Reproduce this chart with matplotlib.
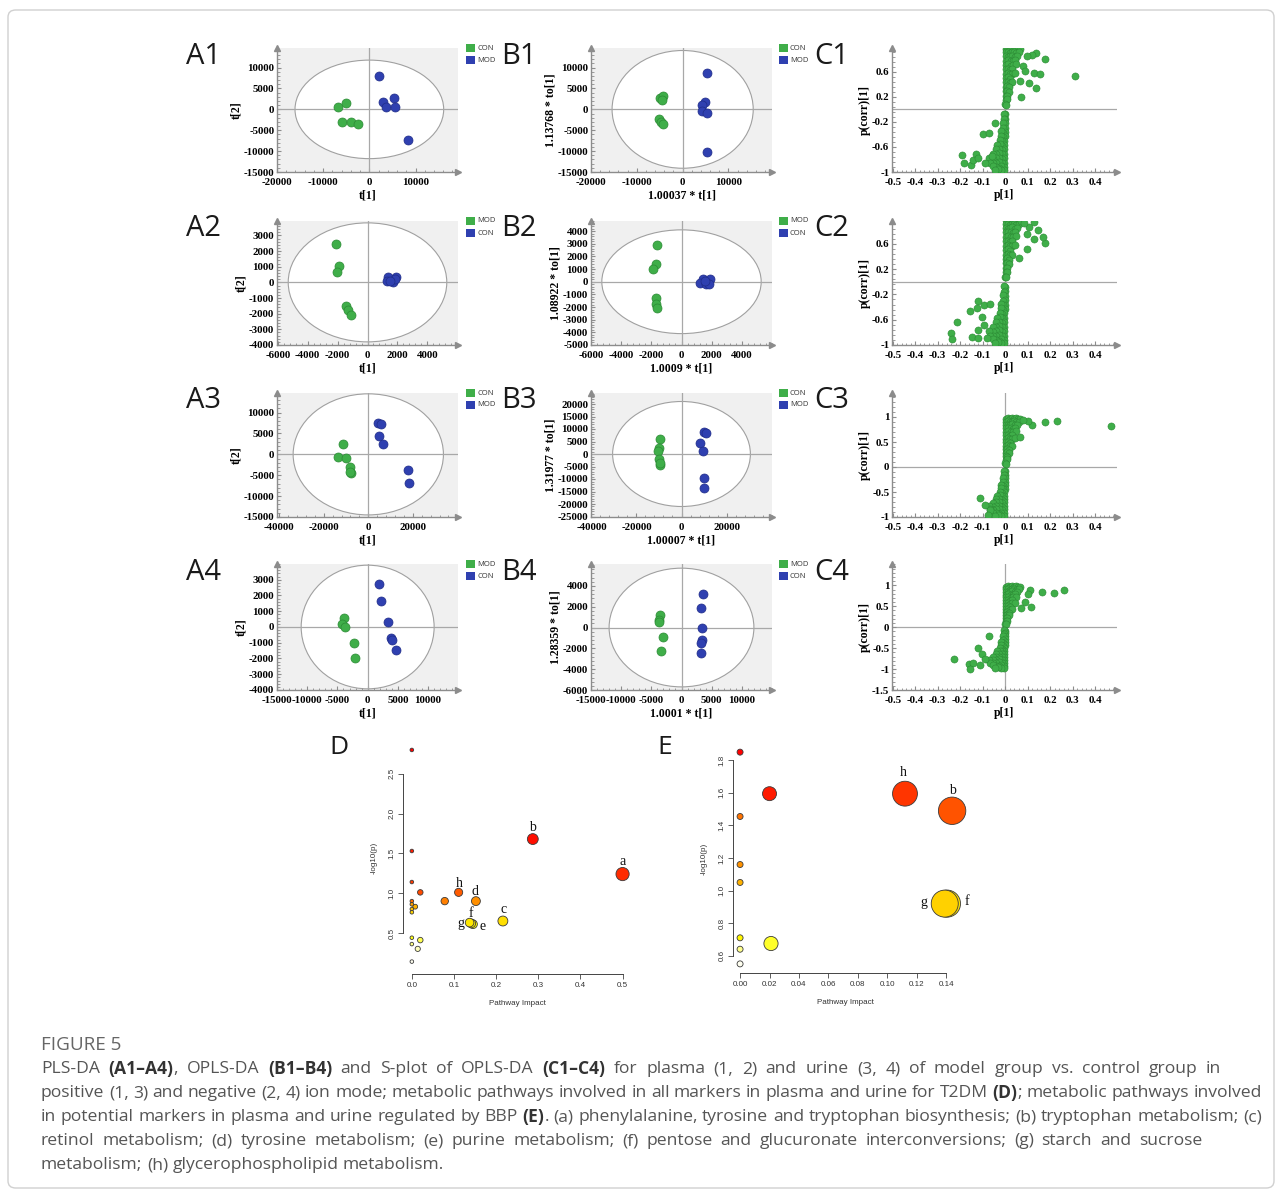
import os
import numpy as np
import matplotlib
matplotlib.use('Agg')
import matplotlib.pyplot as plt
from matplotlib.patches import Ellipse, Rectangle, FancyBboxPatch
from matplotlib.ticker import AutoMinorLocator
from matplotlib.colors import LinearSegmentedColormap
from matplotlib import font_manager

W, H = 1282, 1193
plt.rcParams['axes.unicode_minus'] = False
plt.rcParams['font.family'] = 'Liberation Serif'

GREEN, GREEN_E = '#3fae49', '#2b8a34'
BLUE, BLUE_E = '#2f40b0', '#1f2c88'

# ---------------- score plots (PLS-DA / OPLS-DA) ----------------
a1_gx = [-6700, -5100, -5850, -4000, -2550]
a1_gy = [650, 1600, -3100, -2950, -3550]
a1_bx = [2050, 3000, 5300, 3700, 5650, 8350]
a1_by = [8100, 1750, 2700, 500, 500, -7400]

a2_gx = [-2130, -1910, -2020, -1410, -1330, -1110]
a2_gy = [2460, 1070, 660, -1480, -1760, -2080]
a2_bx = [1390, 1930, 1280, 1720, 1830, 1500]
a2_by = [340, 320, 60, 20, 230, 110]

a3_gx = [-11400, -13500, -9900, -8400, -7800, -8000]
a3_gy = [2540, -640, -790, -2940, -4520, -4300]
a3_bx = [4350, 5550, 4800, 6450, 17700, 18300]
a3_by = [7540, 7380, 4370, 2460, -3810, -6750]

a4_gx = [-3920, -4250, -3760, -2310, -2100]
a4_gy = [560, 190, 0, -1030, -1960]
a4_bx = [1930, 2150, 3390, 3920, 4030, 4620]
a4_by = [2710, 1680, 340, -670, -840, -1460]

b1_gx = [-4930, -4280, -4570, -5150, -4780, -4280]
b1_gy = [2780, 3180, 2300, -2380, -2940, -3570]
b1_bx = [5290, 4780, 4280, 4280, 5290, 5290]
b1_by = [8730, 1670, 1030, -400, -790, -10320]

b2_gx = [-1610, -1680, -1880, -1720, -1720, -1610]
b2_gy = [2900, 1370, 970, -1320, -1740, -2110]
b2_bx = [1440, 1220, 1880, 1660, 1810, 1550]
b2_by = [240, -80, 180, -210, -160, 50]

b3_gx = [-9400, -9850, -10600, -9850, -9400, -9550]
b3_gy = [6000, 2400, 1330, -2000, -4270, -3600]
b3_bx = [10000, 10750, 8060, 9550, 9850, 9850]
b3_by = [8800, 8400, 4400, 1330, -9730, -13600]

b4_gx = [-3600, -3770, -3770, -3110, -3440]
b4_gy = [1240, 760, 570, -950, -2290]
b4_bx = [3600, 3280, 3440, 3440, 3280, 3280]
b4_by = [3240, 1900, 0, -1240, -1520, -2480]

legend_names = [('CON', 'MOD'), ('MOD', 'CON'), ('CON', 'MOD'), ('MOD', 'CON')]
b_xlabels = ['1.00037 * t[1]', '1.0009 * t[1]', '1.00007 * t[1]', '1.0001 * t[1]']
b_ylabels = ['1.13768 * to[1]', '1.08922 * to[1]', '1.31977 * to[1]', '1.28359 * to[1]']

# ---------------- S-plots: dense S-shaped core shared by the four panels ----------------
core_points = [
    (0.003, 0.97), (0.012, 0.98), (0.021, 0.97), (0.030, 0.98), (0.039, 0.97), (0.048, 0.98),
    (0.057, 0.97), (0.066, 0.96),
    (0.004, 0.91), (0.013, 0.92), (0.022, 0.90), (0.031, 0.91), (0.040, 0.92), (0.050, 0.90),
    (0.060, 0.91),
    (0.005, 0.85), (0.014, 0.84), (0.023, 0.85), (0.032, 0.86), (0.042, 0.84), (0.053, 0.85),
    (0.005, 0.78), (0.014, 0.79), (0.024, 0.78), (0.034, 0.77), (0.045, 0.79),
    (0.005, 0.71), (0.014, 0.72), (0.024, 0.70), (0.035, 0.71), (0.048, 0.72),
    (0.004, 0.64), (0.013, 0.65), (0.022, 0.63), (0.032, 0.64),
    (0.004, 0.57), (0.012, 0.58), (0.021, 0.56), (0.031, 0.57), (0.042, 0.58),
    (0.004, 0.50), (0.012, 0.51), (0.022, 0.49),
    (0.003, 0.43), (0.011, 0.44), (0.020, 0.42), (0.030, 0.43),
    (0.003, 0.36), (0.010, 0.37), (0.018, 0.35),
    (0.003, 0.29), (0.009, 0.30), (0.016, 0.28),
    (0.002, 0.22), (0.008, 0.21), (0.002, 0.15), (0.006, 0.16), (0.001, 0.08), (0.004, 0.07),
    (-0.001, -0.08), (-0.004, -0.07), (-0.002, -0.15), (-0.006, -0.16),
    (-0.002, -0.22), (-0.008, -0.21), (-0.003, -0.29), (-0.010, -0.30),
    (-0.003, -0.36), (-0.011, -0.37), (-0.019, -0.35),
    (-0.003, -0.43), (-0.011, -0.44), (-0.020, -0.42),
    (-0.004, -0.50), (-0.012, -0.51), (-0.022, -0.49),
    (-0.004, -0.57), (-0.013, -0.58), (-0.024, -0.56), (-0.035, -0.57),
    (-0.004, -0.64), (-0.014, -0.65), (-0.026, -0.63), (-0.040, -0.64),
    (-0.005, -0.71), (-0.015, -0.72), (-0.027, -0.70), (-0.040, -0.71), (-0.055, -0.72),
    (-0.005, -0.78), (-0.016, -0.79), (-0.028, -0.77), (-0.041, -0.78), (-0.056, -0.79),
    (-0.070, -0.78),
    (-0.005, -0.85), (-0.016, -0.86), (-0.028, -0.84), (-0.041, -0.85), (-0.055, -0.86),
    (-0.068, -0.85),
    (-0.006, -0.92), (-0.017, -0.91), (-0.029, -0.93), (-0.042, -0.92), (-0.056, -0.91),
    (-0.007, -0.97), (-0.019, -0.97), (-0.032, -0.96), (-0.045, -0.97),
]
core_p = [p for p, c in core_points]
core_corr = [c for p, c in core_points]

c1_p = [0.312, 0.179, 0.139, 0.119, 0.099, 0.126, 0.154, 0.139, 0.107, 0.070, 0.080, 0.090, 0.065,
        -0.193, -0.182, -0.150, -0.130, -0.100, -0.074, -0.044, -0.141, -0.119, -0.090, -0.060]
c1_corr = [0.54, 0.805, 0.896, 0.869, 0.853, 0.576, 0.565, 0.347, 0.427, 0.197, 0.70, 0.62, 0.45,
           -0.731, -0.864, -0.891, -0.709, -0.40, -0.384, -0.224, -0.81, -0.784, -0.86, -0.75]

c2_p = [0.178, 0.170, 0.145, 0.126, 0.108, 0.070, 0.130, 0.096, 0.062, 0.085, 0.095,
        -0.240, -0.237, -0.215, -0.158, -0.119, -0.126, -0.092, -0.067, -0.148, -0.119,
        -0.096, -0.119, -0.081, -0.105]
c2_corr = [0.62, 0.70, 0.81, 0.94, 0.87, 0.96, 0.67, 0.51, 0.38, 0.93, 0.75,
           -0.81, -0.90, -0.64, -0.46, -0.30, -0.41, -0.37, -0.35, -0.87, -0.77,
           -0.69, -0.89, -0.89, -0.55]

c3_p = [0.471, 0.231, 0.178, 0.120, 0.100, 0.080, 0.065, -0.089, -0.110, -0.067, -0.075]
c3_corr = [0.82, 0.92, 0.90, 0.84, 0.92, 0.95, 0.60, -0.76, -0.62, -0.86, -0.95]

c4_p = [0.262, 0.218, 0.163, 0.111, 0.115, 0.089, 0.100, 0.070,
        -0.227, -0.163, -0.144, -0.156, -0.123, -0.102, -0.111, -0.071, -0.090]
c4_corr = [0.88, 0.82, 0.85, 0.89, 0.48, 0.60, 0.80, 0.45,
           -0.77, -0.89, -0.86, -0.99, -0.50, -0.63, -0.90, -0.22, -0.75]

# ---------------- pathway analysis ----------------
d_impact = [0, 0, 0, 0.020, 0, 0, 0.008, 0, 0, 0.078, 0.111, 0.152, 0.287, 0.500,
            0.216, 0.137, 0.141, 0.145, 0, 0.020, 0, 0.014, 0]
d_logp = [2.80, 1.53, 1.14, 1.01, 0.90, 0.86, 0.83, 0.80, 0.76, 0.90, 1.01, 0.90, 1.68, 1.24,
          0.65, 0.63, 0.62, 0.61, 0.44, 0.41, 0.36, 0.30, 0.14]
d_names = {12: 'b', 13: 'a', 10: 'h', 11: 'd', 14: 'c', 15: 'g', 16: 'f', 17: 'e'}

e_impact = [0, 0.020, 0, 0, 0, 0, 0, 0, 0.021, 0.112, 0.144, 0.139, 0.1405]
e_logp = [1.85, 1.595, 1.455, 1.16, 1.05, 0.71, 0.64, 0.55, 0.675, 1.595, 1.49, 0.92, 0.92]
e_names = {9: 'h', 10: 'b', 11: 'g', 12: 'f'}

fig = plt.figure(figsize=(W / 100, H / 100), dpi=100)
fig.add_artist(FancyBboxPatch((8 / W, 1 - 1188 / H), 1266 / W, 1178 / H,
                              boxstyle='round,pad=0,rounding_size=0.006',
                              transform=fig.transFigure, fill=False,
                              edgecolor='#d0d0d0', lw=1))


def px_axes(left, top, right, bottom):
    return fig.add_axes([left / W, 1 - bottom / H, (right - left) / W, (bottom - top) / H])


def sim_style(ax, xticks, yticks, fmt):
    ax.set_xticks(xticks)
    ax.set_yticks(yticks)
    ax.set_xticklabels([fmt(v) for v in xticks])
    ax.set_yticklabels([fmt(v) for v in yticks])
    ax.xaxis.set_minor_locator(AutoMinorLocator(5))
    ax.yaxis.set_minor_locator(AutoMinorLocator(5))
    for s in ['top', 'right']:
        ax.spines[s].set_visible(False)
    for s in ['left', 'bottom']:
        ax.spines[s].set_color('#8c8c8c')
        ax.spines[s].set_linewidth(1.0)
    ax.tick_params(which='both', direction='in', color='#8c8c8c', labelcolor='black',
                   labelsize=7.8, pad=2)
    ax.tick_params(axis='x', pad=4)
    ax.tick_params(which='major', length=3)
    ax.tick_params(which='minor', length=1.8)
    for lab in ax.get_xticklabels() + ax.get_yticklabels():
        lab.set_fontweight('bold')
    ax.plot(1, 0, '>', color='#8c8c8c', ms=4, transform=ax.transAxes, clip_on=False)
    ax.plot(0, 1, '^', color='#8c8c8c', ms=4, transform=ax.transAxes, clip_on=False)


def score_panel(box, gx, gy, bx, by, xlim, ylim, xticks, yticks, ell, xlabel, ylabel):
    ax = px_axes(*box)
    ax.set_facecolor('#f0f0f0')
    ax.add_patch(Ellipse((0, 0), ell[0], ell[1], facecolor='white', edgecolor='#a0a0a0',
                         lw=0.8, zorder=1))
    ax.axhline(0, color='#a8a8a8', lw=0.9, zorder=2)
    ax.axvline(0, color='#a8a8a8', lw=0.9, zorder=2)
    ax.scatter(gx, gy, s=42, c=GREEN, edgecolors=GREEN_E, linewidths=0.5, zorder=3)
    ax.scatter(bx, by, s=42, c=BLUE, edgecolors=BLUE_E, linewidths=0.5, zorder=3)
    ax.set_xlim(*xlim)
    ax.set_ylim(*ylim)
    sim_style(ax, xticks, yticks, lambda v: '%d' % v)
    ax.set_xlabel(xlabel, fontsize=8.5, fontweight='bold', labelpad=2)
    ax.set_ylabel(ylabel, fontsize=8.5, fontweight='bold', labelpad=1)
    return ax


def s_panel(box, p, corr, ylim, yticks):
    ax = px_axes(*box)
    ax.set_facecolor('white')
    ax.axhline(0, color='#a8a8a8', lw=0.9, zorder=1)
    ax.axvline(0, color='#a8a8a8', lw=0.9, zorder=1)
    ax.scatter(core_p, core_corr, s=26, c='#3fae49', edgecolors='#2b8a34', linewidths=0.4, zorder=3)
    ax.scatter(p, corr, s=26, c='#3fae49', edgecolors='#2b8a34', linewidths=0.4, zorder=3)
    ax.set_xlim(-0.503, 0.497)
    ax.set_ylim(*ylim)
    sim_style(ax, [-0.5, -0.4, -0.3, -0.2, -0.1, 0, 0.1, 0.2, 0.3, 0.4], yticks,
              lambda v: '%g' % round(v, 2))
    ax.set_xlabel('p[1]', fontsize=8.5, fontweight='bold', labelpad=2)
    ax.set_ylabel('p(corr)[1]', fontsize=8.5, fontweight='bold', labelpad=1)
    return ax


def legend(x, top, names):
    for k, (col, name) in enumerate(zip([GREEN, BLUE], names)):
        y = top - 4 + 12 * k
        fig.add_artist(Rectangle((x / W, 1 - (y + 8) / H), 9 / W, 8 / H, transform=fig.transFigure,
                                 facecolor=col, edgecolor='none'))
        fig.text((x + 11) / W, 1 - (y + 4) / H, name, fontsize=5.5, family='Open Sans',
                 color='#333333', va='center', ha='left')


def panel_letter(x, y, s, size=21):
    fig.text(x / W, 1 - y / H, s, fontsize=size, family='Open Sans', color='#1a1a1a',
             va='center', ha='left')


tops = [48, 221, 393, 564]
bots = [172, 345, 517, 690]

score_panel((277, tops[0], 458, bots[0]), a1_gx, a1_gy, a1_bx, a1_by, (-20000, 19200), (-15000, 14700),
            [-20000, -10000, 0, 10000], list(range(-15000, 10001, 5000)), (32200, 23600), 't[1]', 't[2]')
score_panel((277, tops[1], 458, bots[1]), a2_gx, a2_gy, a2_bx, a2_by, (-6050, 6050), (-4000, 3920),
            list(range(-6000, 4001, 2000)), list(range(-4000, 3001, 1000)), (10600, 7600), 't[1]', 't[2]')
score_panel((277, tops[2], 458, bots[2]), a3_gx, a3_gy, a3_bx, a3_by, (-41000, 40300), (-15000, 14700),
            [-40000, -20000, 0, 20000], list(range(-15000, 10001, 5000)), (67500, 29000), 't[1]', 't[2]')
score_panel((277, tops[3], 458, bots[3]), a4_gx, a4_gy, a4_bx, a4_by, (-14900, 14950), (-4000, 4000),
            list(range(-15000, 10001, 5000)), list(range(-4000, 3001, 1000)), (22000, 7850), 't[1]', 't[2]')

score_panel((591, tops[0], 772, bots[0]), b1_gx, b1_gy, b1_bx, b1_by, (-20000, 19500), (-15000, 14700),
            [-20000, -10000, 0, 10000], list(range(-15000, 10001, 5000)), (30800, 28200), b_xlabels[0], b_ylabels[0])
score_panel((591, tops[1], 772, bots[1]), b2_gx, b2_gy, b2_bx, b2_by, (-6020, 6020), (-5000, 4800),
            list(range(-6000, 4001, 2000)), list(range(-5000, 4001, 1000)), (10600, 8200), b_xlabels[1], b_ylabels[1])
score_panel((591, tops[2], 772, bots[2]), b3_gx, b3_gy, b3_bx, b3_by, (-40200, 40200), (-25200, 24400),
            [-40000, -20000, 0, 20000], list(range(-25000, 20001, 5000)), (61200, 42000), b_xlabels[2], b_ylabels[2])
score_panel((591, tops[3], 772, bots[3]), b4_gx, b4_gy, b4_bx, b4_by, (-15000, 15000), (-6000, 6100),
            list(range(-15000, 10001, 5000)), list(range(-6000, 4001, 2000)), (24000, 11400), b_xlabels[3], b_ylabels[3])

s_panel((892, tops[0], 1117, bots[0]), c1_p, c1_corr, (-1, 0.98), [-1, -0.6, -0.2, 0.2, 0.6])
s_panel((892, tops[1], 1117, bots[1]), c2_p, c2_corr, (-1, 0.96), [-1, -0.6, -0.2, 0.2, 0.6])
s_panel((892, tops[2], 1117, bots[2]), c3_p, c3_corr, (-1, 1.48), [-1, -0.5, 0, 0.5, 1])
s_panel((892, tops[3], 1117, bots[3]), c4_p, c4_corr, (-1.5, 1.51), [-1.5, -1, -0.5, 0, 0.5, 1])

for r in range(4):
    panel_letter(186, tops[r] + 8, 'A%d' % (r + 1))
    panel_letter(501, tops[r] + 8, 'B%d' % (r + 1))
    panel_letter(814, tops[r] + 8, 'C%d' % (r + 1))
    legend(466, tops[r], legend_names[r])
    legend(779, tops[r], legend_names[r])

# ---------------- pathway bubble plots ----------------
heat = LinearSegmentedColormap.from_list('heat', ['#ff0000', '#ff4000', '#ff8c00', '#ffd700',
                                                  '#ffff00', '#fffff0'])


def bubble_panel(box, impact, logp, names, xlim, ylim, xticks, yticks, xfmt, rmin, k, label_pos):
    ax = px_axes(*box)
    impact = np.array(impact)
    logp = np.array(logp)
    order = np.argsort(-logp, kind='stable')
    rank = np.empty(len(logp))
    rank[order] = np.arange(len(logp)) / (len(logp) - 1)
    radius = rmin + k * np.sqrt(impact / impact.max())
    sizes = (2 * radius * 0.72) ** 2
    # big bubbles first so the small ones stay visible
    idx = np.argsort(-sizes, kind='stable')
    ax.scatter(impact[idx], logp[idx], s=sizes[idx], c=heat(rank[idx]), edgecolors='#3a3a3a',
               linewidths=0.6, zorder=3, clip_on=False)
    for i, name in names.items():
        dx, dy = label_pos[name]
        ax.text(dx, dy, name, fontsize=10, family='Liberation Serif', ha='center', va='center',
                color='#111111', zorder=4)
    ax.set_xlim(*xlim)
    ax.set_ylim(*ylim)
    for s in ['top', 'right']:
        ax.spines[s].set_visible(False)
    ax.spines['left'].set_bounds(yticks[0], yticks[-1])
    ax.spines['bottom'].set_bounds(xticks[0], xticks[-1])
    for s in ['left', 'bottom']:
        ax.spines[s].set_color('#444444')
        ax.spines[s].set_linewidth(0.7)
    ax.set_xticks(xticks)
    ax.set_yticks(yticks)
    ax.set_xticklabels([xfmt % v for v in xticks])
    ax.set_yticklabels(['%.1f' % v for v in yticks], rotation=90, va='center')
    ax.tick_params(direction='out', length=3.5, width=0.6, color='#444444', labelsize=5.8,
                   labelcolor='#333333', pad=2)
    for lab in ax.get_xticklabels() + ax.get_yticklabels():
        lab.set_fontfamily('Liberation Sans')
    ax.set_xlabel('Pathway Impact', fontsize=5.8, family='Liberation Sans', color='#333333', labelpad=8)
    ax.set_ylabel('-log10(p)', fontsize=5.8, family='Liberation Sans', color='#333333', labelpad=8)
    return ax


d_lab = {'b': (0.286, 1.82), 'a': (0.500, 1.40), 'h': (0.112, 1.125), 'd': (0.151, 1.016),
         'c': (0.217, 0.79), 'f': (0.140, 0.748), 'g': (0.116, 0.62), 'e': (0.1675, 0.58)}
bubble_panel((403, 742, 631, 974), d_impact, d_logp, d_names, (-0.021, 0.52), (-0.016, 2.9),
             [0, 0.1, 0.2, 0.3, 0.4, 0.5], [0.5, 1.0, 1.5, 2.0, 2.5], '%.1f', 1.8, 4.8, d_lab)

e_lab = {'h': (0.1112, 1.722), 'b': (0.144, 1.613), 'g': (0.1245, 0.924), 'f': (0.154, 0.933)}
bubble_panel((733, 744, 958, 973), e_impact, e_logp, e_names, (-0.0048, 0.148), (0.494, 1.9),
             [0, 0.02, 0.04, 0.06, 0.08, 0.10, 0.12, 0.14], [0.6, 0.8, 1.0, 1.2, 1.4, 1.6, 1.8],
             '%.2f', 3.0, 10.7, e_lab)

panel_letter(329, 747, 'D', size=19)
panel_letter(657, 747, 'E', size=19)

# ---------------- caption ----------------
renderer = fig.canvas.get_renderer()


def has_bold(family):
    path = font_manager.findfont(font_manager.FontProperties(family=family, weight='bold'),
                                 fallback_to_default=False)
    name = os.path.basename(path).lower()
    return 'bold' in name and 'variable' not in name


CAP_FONT = 'DejaVu Sans'
for fam in ['Noto Sans', 'Open Sans', 'Roboto', 'Lato', 'Liberation Sans']:
    try:
        if has_bold(fam):
            CAP_FONT = fam
            break
    except Exception:
        pass


def text_width(s, bold, size):
    t = fig.text(0, 0, s, fontsize=size, family=CAP_FONT, fontweight='bold' if bold else 'normal')
    w = t.get_window_extent(renderer=renderer).width
    t.remove()
    return w


def split_words(line):
    words = []
    for w in line.split(' '):
        parts = w.split('*')
        words.append([(p, i % 2 == 1) for i, p in enumerate(parts) if p])
    return words


def natural_width(line, size):
    words = split_words(line)
    space = text_width('a a', False, size) - text_width('aa', False, size)
    return sum(text_width(p, b, size) for word in words for p, b in word) + space * (len(words) - 1)


def caption_line(line, y, x0, x1, size):
    words = split_words(line)
    widths = [[text_width(p, b, size) for p, b in word] for word in words]
    total = sum(sum(ws) for ws in widths)
    space = text_width('a a', False, size) - text_width('aa', False, size)
    gap = space if x1 is None else (x1 - x0 - total) / (len(words) - 1)
    x = x0
    for word, ws in zip(words, widths):
        for (p, b), w in zip(word, ws):
            fig.text(x / W, 1 - y / H, p, fontsize=size, family=CAP_FONT,
                     fontweight='bold' if b else 'normal', color='#333333' if b else '#555555',
                     va='center', ha='left')
            x += w
        x += gap


cap_lines = [
    ('PLS-DA *(A1–A4)*, OPLS-DA *(B1–B4)* and S-plot of OPLS-DA *(C1–C4)* for plasma (1, 2) and urine '
     '(3, 4) of model group vs. control group in', 1221),
    ('positive (1, 3) and negative (2, 4) ion mode; metabolic pathways involved in all markers in plasma '
     'and urine for T2DM *(D)*; metabolic pathways involved', 1262),
    ('in potential markers in plasma and urine regulated by BBP *(E)*. (a) phenylalanine, tyrosine and '
     'tryptophan biosynthesis; (b) tryptophan metabolism; (c)', 1262),
    ('retinol metabolism; (d) tyrosine metabolism; (e) purine metabolism; (f) pentose and glucuronate '
     'interconversions; (g) starch and sucrose', 1202),
    ('metabolism; (h) glycerophospholipid metabolism.', None),
]
# largest size at which every justified line still fits with at least a plain space
base = 10.0
CAP_SIZE = base * min((x1 - 41) / natural_width(line, base) for line, x1 in cap_lines if x1)

fig.text(41 / W, 1 - 1045 / H, 'FIGURE 5', fontsize=CAP_SIZE * 1.08, family=CAP_FONT, color='#666666',
         va='center', ha='left')
for k, (line, x1) in enumerate(cap_lines):
    caption_line(line, 1069 + 24 * k, 41, x1, CAP_SIZE)

fig.savefig('out.png', dpi=100)
